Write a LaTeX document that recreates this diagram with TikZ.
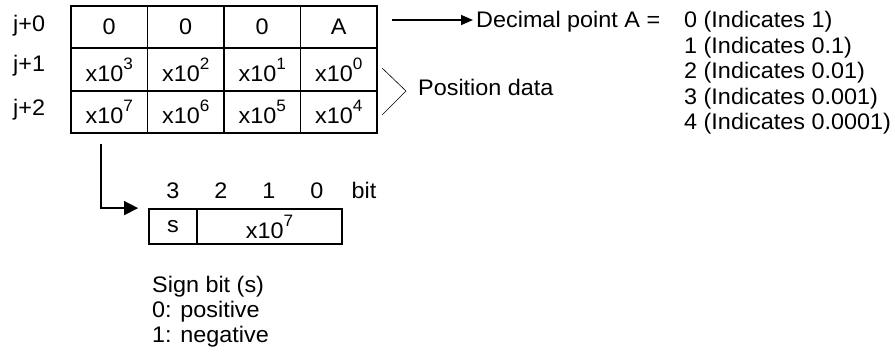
\documentclass[tikz,border=0pt]{standalone}
\usepackage{fontspec}
\setmainfont[FakeStretch=1.04]{Liberation Sans}
\usetikzlibrary{arrows.meta}
\newcommand{\expo}[1]{x10\raisebox{12pt}{\fontsize{16.5}{16.5}\selectfont #1}}

\begin{document}
\begin{tikzpicture}[x=1pt,y=-1pt,
   every node/.style={font=\fontsize{22.5}{25}\selectfont},
   cell/.style={draw,line width=1.8pt,minimum width=76.5pt,minimum height=42.3pt,inner sep=0pt},
   txt/.style={anchor=base west,inner sep=0pt},
   arr/.style={line width=1.6pt,-{Triangle[length=14pt,width=14pt]}}]
   \useasboundingbox (0,0) rectangle (895,359);

   % word table
   \foreach \t [count=\c from 0] in {0,0,0,A}
      \node[cell] (r0c\c) at ({109.25+76.5*\c},27.2) {\t};
   \foreach \t [count=\c from 0] in {\expo{3},\expo{2},\expo{1},\expo{0}}
      \node[cell] (r1c\c) at ({109.25+76.5*\c},69.5) {\t};
   \foreach \t [count=\c from 0] in {\expo{7},\expo{6},\expo{5},\expo{4}}
      \node[cell] (r2c\c) at ({109.25+76.5*\c},111.8) {\t};

   \node[txt] (j0) at (13,31) {j+0};
   \node[txt] (j1) at (13,71) {j+1};
   \node[txt] (j2) at (13,115) {j+2};

   % decimal point
   \coordinate (dpstart) at (392,20);
   \node[txt] (dp) at (476,27.5) {Decimal point A =};
   \draw[line width=1.4pt,-{Triangle[length=12pt,width=10pt]},shorten >=3pt] (dpstart) -- (dpstart -| dp.west);
   \foreach \v [count=\k from 0] in {0 (Indicates 1),1 (Indicates 0.1),2 (Indicates 0.01),3 (Indicates 0.001),4 (Indicates 0.0001)}
      \node[txt] (val\k) at (684,{27.5+25.5*\k}) {\v};

   % position data
   \draw[line width=0.6pt] (382,68) -- (406,91) -- (382,115);
   \node[txt] (posdata) at (418,95) {Position data};

   % sign bit
   \coordinate (signstart) at (101,144);
   \node[cell,minimum width=48pt,minimum height=35pt] (bs) at (173,226.5) {s};
   \node[cell,minimum width=145pt,minimum height=35pt] (bval) at (269.5,226.5) {\expo{7}};
   \draw[arr,shorten >=10pt] (signstart) |- (bs.north west);
   \foreach \b [count=\k from 0] in {3,2,1,0}
      \node[anchor=base,inner sep=0pt] (bit\b) at ({173+48*\k},198) {\b};
   \node[anchor=base,inner sep=0pt] (bitlbl) at (364,198) {bit};

   \foreach \s [count=\k from 0] in {Sign bit (s),0: positive,1: negative}
      \node[txt] (sign\k) at (152,{292+25*\k}) {\s};
\end{tikzpicture}
\end{document}
